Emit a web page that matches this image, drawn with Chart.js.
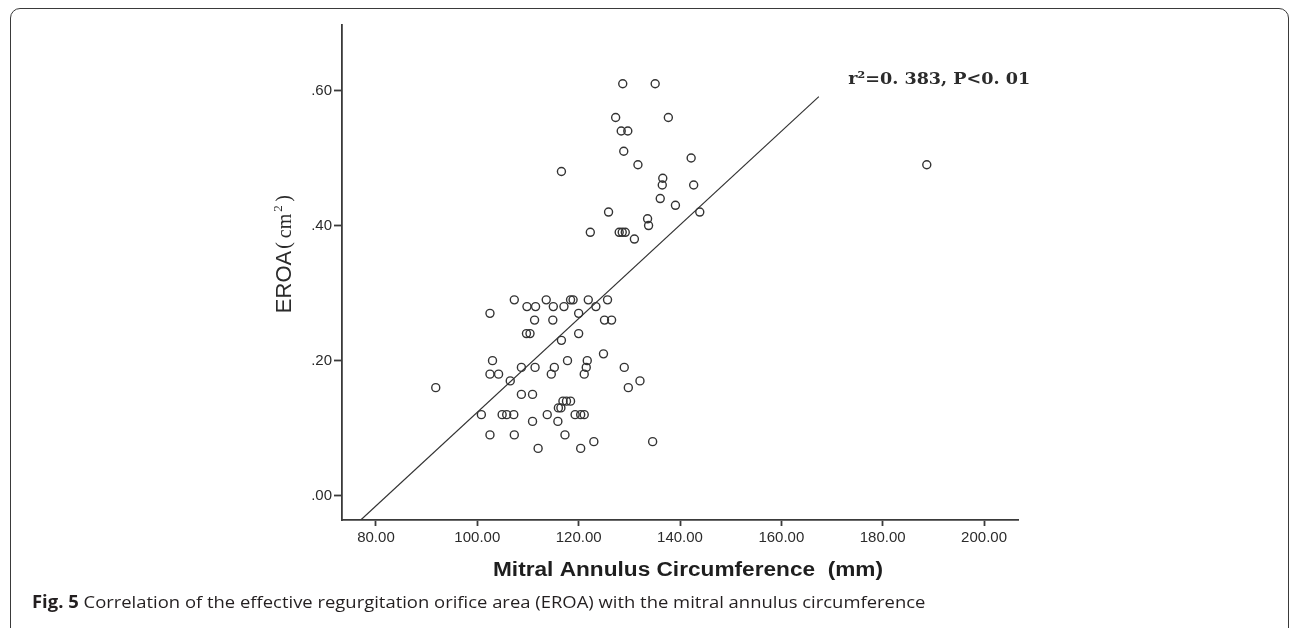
<!DOCTYPE html>
<html>
<head>
<meta charset="utf-8">
<script src="https://cdn.jsdelivr.net/npm/chart.js@4"></script>
<style>
  html, body { margin: 0; padding: 0; background: #fff; }
  body { width: 1292px; height: 628px; position: relative; overflow: hidden; }
  #frame {
    position: absolute; left: 10px; top: 8px; width: 1279px; height: 630px;
    border: 1.6px solid #3a3a3a; border-radius: 10px; box-sizing: border-box;
  }
  #plot { position: absolute; left: 0; top: 0; }
  #caption {
    position: absolute; left: 32px; top: 590px; white-space: nowrap;
    font-family: "Open Sans", sans-serif; font-size: 17px; color: #231f20;
    transform: scaleX(1.084); transform-origin: 0 0;
  }
  #caption b { font-weight: 700; }
</style>
</head>
<body>
<div id="frame"></div>
<canvas id="plot" width="1292" height="628"></canvas>
<div id="caption"><b>Fig. 5</b> Correlation of the effective regurgitation orifice area (EROA) with the mitral annulus circumference</div>
<script>
// Mitral annulus circumference (mm) for each patient
const circumference = [
    128.7, 135.1, 127.3, 137.7, 128.4, 129.7, 128.9, 131.7, 142.2, 116.6,
    136.6, 136.5, 142.7, 136.1, 139.1, 125.9, 143.9, 133.6, 133.8, 122.3,
    128.0, 128.6, 129.2, 131.0, 188.7,
    107.3, 113.6, 118.4, 118.9, 121.9, 125.7,
    109.8, 111.5, 115.0, 117.1, 123.4,
    102.5, 120.0,
    111.3, 114.9, 125.1, 126.5,
    109.7, 110.4, 120.0,
    116.6,
    124.9,
    103.0, 117.8, 121.7,
    108.7, 111.4, 115.2, 121.5, 129.0,
    102.5, 104.2, 114.6, 121.1,
    106.5, 132.1,
    91.8, 129.8,
    108.7, 110.9,
    116.9, 117.6, 118.4,
    116.0, 116.5,
    100.8, 104.9, 105.8, 107.2, 113.8, 119.3, 120.4, 121.1,
    110.9, 115.9,
    102.5, 107.3, 117.3,
    123.0, 134.6,
    112.0, 120.4
];

// EROA (cm2), same order
const eroa = [
    0.61, 0.61, 0.56, 0.56, 0.54, 0.54, 0.51, 0.49, 0.50, 0.48,
    0.47, 0.46, 0.46, 0.44, 0.43, 0.42, 0.42, 0.41, 0.40, 0.39,
    0.39, 0.39, 0.39, 0.38, 0.49,
    0.29, 0.29, 0.29, 0.29, 0.29, 0.29,
    0.28, 0.28, 0.28, 0.28, 0.28,
    0.27, 0.27,
    0.26, 0.26, 0.26, 0.26,
    0.24, 0.24, 0.24,
    0.23,
    0.21,
    0.20, 0.20, 0.20,
    0.19, 0.19, 0.19, 0.19, 0.19,
    0.18, 0.18, 0.18, 0.18,
    0.17, 0.17,
    0.16, 0.16,
    0.15, 0.15,
    0.14, 0.14, 0.14,
    0.13, 0.13,
    0.12, 0.12, 0.12, 0.12, 0.12, 0.12, 0.12, 0.12,
    0.11, 0.11,
    0.09, 0.09, 0.09,
    0.08, 0.08,
    0.07, 0.07
];

// fitted line end points
const fitX = [77.0, 167.4];
const fitY = [-0.036, 0.591];

const xTicks = [80, 100, 120, 140, 160, 180, 200];
const yTicks = [0, 0.2, 0.4, 0.6];

const xTitle = 'Mitral Annulus Circumference  (mm)';
const noteText = 'r\u00b2=0. 383, P<0. 01';
const noteAt = { x: 173.2, y: 0.616 };

const ink = '#2b2b2b';

// draw text squeezed/stretched to a given width
function fitText(ctx, text, x, y, width) {
    const w = ctx.measureText(text).width;
    ctx.save();
    ctx.translate(x, y);
    ctx.scale(width / w, 1);
    ctx.fillText(text, 0, 0);
    ctx.restore();
}

// axis titles and the r2 note (the y title mixes fonts)
const figText = {
    id: 'figText',
    afterDraw(chart) {
        const { ctx, scales, chartArea } = chart;
        ctx.save();
        ctx.fillStyle = ink;
        ctx.textBaseline = 'middle';

        // y title, rotated
        ctx.save();
        ctx.translate(285, 250);
        ctx.rotate(-Math.PI / 2);
        ctx.font = '22px "Liberation Sans", Arial, sans-serif';
        const w1 = ctx.measureText('EROA').width;
        let x0 = -(w1 + 64) / 2;
        ctx.fillText('EROA', x0, 0);
        x0 += w1 + 2;
        ctx.font = '20px "Liberation Serif", serif';
        ctx.fillText('(', x0, 0);
        x0 += ctx.measureText('(').width + 4;
        ctx.fillText('cm', x0, 1);
        x0 += ctx.measureText('cm').width + 2;
        ctx.font = '13px "Liberation Serif", serif';
        ctx.fillText('2', x0, -6);
        x0 += 10;
        ctx.font = '20px "Liberation Serif", serif';
        ctx.fillText(')', x0, 0);
        ctx.restore();

        // x title
        ctx.fillStyle = '#1e1e1e';
        ctx.font = 'bold 20px "Liberation Sans", Arial, sans-serif';
        fitText(ctx, xTitle, 493, 570, 390);

        // note
        ctx.fillStyle = ink;
        ctx.font = 'bold 17px "DejaVu Serif", serif';
        fitText(ctx, noteText, scales.x.getPixelForValue(noteAt.x), scales.y.getPixelForValue(noteAt.y), 182);
        ctx.restore();
    }
};

const points = circumference.map((v, i) => ({ x: v, y: eroa[i] }));
const fitLine = fitX.map((v, i) => ({ x: v, y: fitY[i] }));

new Chart(document.getElementById('plot'), {
    type: 'scatter',
    data: {
        datasets: [
            {
                data: points,
                pointStyle: 'circle',
                pointRadius: 4,
                borderWidth: 1.4,
                borderColor: '#333',
                backgroundColor: 'rgba(0,0,0,0)'
            },
            {
                type: 'line',
                data: fitLine,
                borderColor: '#333',
                borderWidth: 1.2,
                pointRadius: 0,
                fill: false
            }
        ]
    },
    options: {
        responsive: false,
        animation: false,
        layout: { padding: { left: 0, top: 25, right: 274, bottom: 0 } },
        plugins: {
            legend: { display: false },
            tooltip: { enabled: false }
        },
        scales: {
            x: {
                type: 'linear',
                min: 73.3,
                max: 206.7,
                afterFit: s => { s.height = 108; },
                afterBuildTicks: s => { s.ticks = xTicks.map(v => ({ value: v })); },
                border: { display: true, color: '#3a3a3a', width: 1.8 },
                grid: { drawOnChartArea: false, drawTicks: true, tickLength: 6, tickWidth: 1.8, color: '#3a3a3a' },
                ticks: {
                    padding: 3,
                    color: ink,
                    font: { family: '"Liberation Sans", Arial, sans-serif', size: 15 },
                    callback: v => v.toFixed(2)
                }
            },
            y: {
                type: 'linear',
                min: -0.036,
                max: 0.697,
                afterFit: s => { s.width = 342; },
                afterBuildTicks: s => { s.ticks = yTicks.map(v => ({ value: v })); },
                border: { display: true, color: '#3a3a3a', width: 1.8 },
                grid: { drawOnChartArea: false, drawTicks: true, tickLength: 8, tickWidth: 1.8, color: '#3a3a3a' },
                ticks: {
                    padding: 2,
                    color: ink,
                    font: { family: '"Liberation Sans", Arial, sans-serif', size: 15 },
                    callback: v => v.toFixed(2).replace(/^0/, '')
                }
            }
        }
    },
    plugins: [figText]
});
</script>
</body>
</html>
